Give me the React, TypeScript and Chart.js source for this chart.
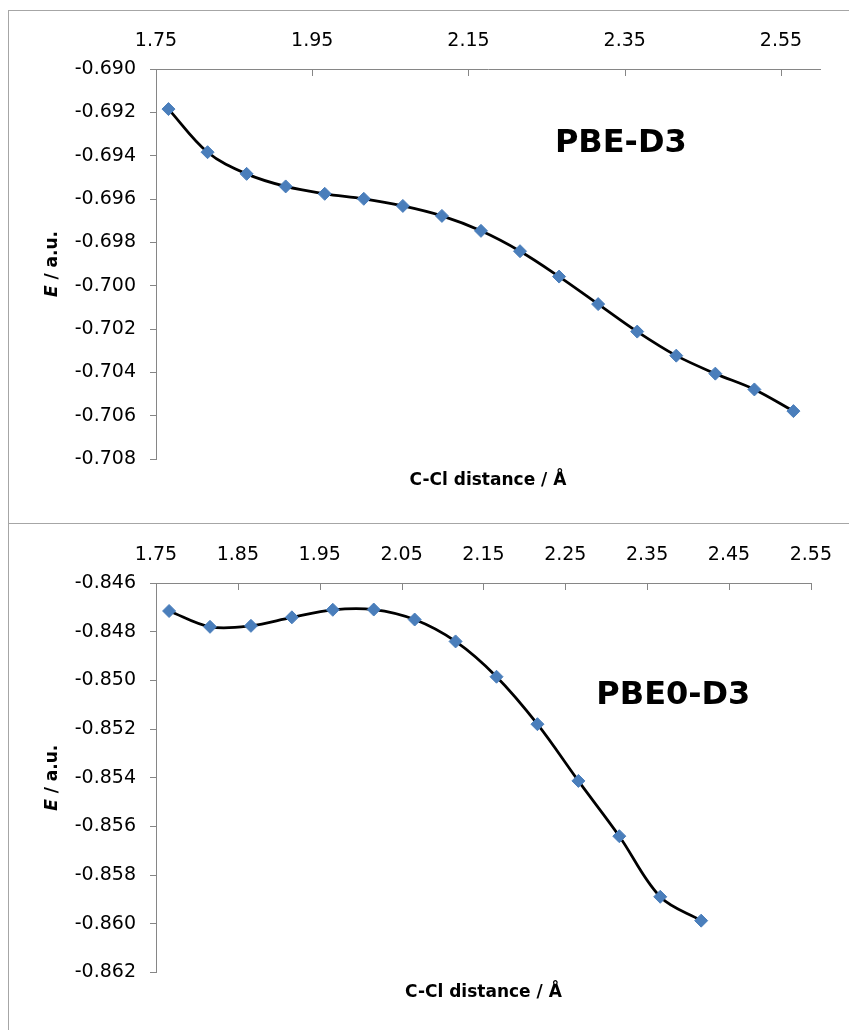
import React, { useEffect, useRef } from 'react';
import { Chart, registerables } from 'chart.js';

Chart.register(...registerables);

// ---------- data ----------
const PBE_DIST = [1.766, 1.816, 1.866, 1.916, 1.966, 2.016, 2.066, 2.116, 2.166, 2.216, 2.266, 2.316, 2.366, 2.416, 2.466, 2.516, 2.566];
const PBE_ENERGY = [-0.69185, -0.69384, -0.69484, -0.69542, -0.69576, -0.69599, -0.69632, -0.69678, -0.69747, -0.69841, -0.69958, -0.70085, -0.70212, -0.70323, -0.70406, -0.70479, -0.70579];

const PBE0_DIST = [1.766, 1.816, 1.866, 1.916, 1.966, 2.016, 2.066, 2.116, 2.166, 2.216, 2.266, 2.316, 2.366, 2.416];
const PBE0_ENERGY = [-0.84715, -0.8478, -0.84776, -0.84741, -0.8471, -0.84709, -0.8475, -0.8484, -0.84985, -0.8518, -0.85413, -0.8564, -0.85889, -0.85987];

const PBE_X_TICKS = [1.75, 1.95, 2.15, 2.35, 2.55];
const PBE_Y_TICKS = [-0.690, -0.692, -0.694, -0.696, -0.698, -0.700, -0.702, -0.704, -0.706, -0.708];
const PBE0_X_TICKS = [1.75, 1.85, 1.95, 2.05, 2.15, 2.25, 2.35, 2.45, 2.55];
const PBE0_Y_TICKS = [-0.846, -0.848, -0.850, -0.852, -0.854, -0.856, -0.858, -0.860, -0.862];

const PBE_LABEL = 'PBE-D3';
const PBE0_LABEL = 'PBE0-D3';
const X_TITLE = 'C-Cl distance / Å';
const Y_TITLE_VAR = 'E';
const Y_TITLE_REST = ' / a.u.';

// ---------- styles ----------
const FONT = "'DejaVu Sans', sans-serif";
const AXIS_COLOR = '#868686';
const FRAME_COLOR = '#a6a6a6';
const MARKER_COLOR = '#4a7ebb';

type PanelCfg = {
  xs: number[];
  ys: number[];
  xTicks: number[];
  yTicks: number[];
  xMin: number;
  xMax: number;
  yMin: number;
  yMax: number;
  label: string;
  labelFx: number;
  labelFy: number;
  padRight: number;
  padBottom: number;
  yAxisWidth: number;
  xAxisHeight: number;
  xTitleOffset: number;
  yTitleX: number;
};

function buildChart(canvas: HTMLCanvasElement, cfg: PanelCfg) {
  const decor = {
    id: 'decor',
    afterDraw(chart: any) {
      const { ctx, chartArea, scales } = chart;
      const xs = scales.x;
      ctx.save();
      ctx.strokeStyle = AXIS_COLOR;
      ctx.lineWidth = 1;
      for (const v of cfg.xTicks) {
        const px = Math.round(xs.getPixelForValue(v)) + 0.5;
        ctx.beginPath();
        ctx.moveTo(px, chartArea.top);
        ctx.lineTo(px, chartArea.top + 7);
        ctx.stroke();
      }
      ctx.fillStyle = '#000';
      ctx.textBaseline = 'middle';
      // x title
      ctx.font = `bold 17px ${FONT}`;
      ctx.textAlign = 'center';
      ctx.fillText(X_TITLE, (chartArea.left + chartArea.right) / 2, chartArea.bottom + cfg.xTitleOffset);
      // y title (rotated)
      ctx.save();
      ctx.translate(cfg.yTitleX, (chartArea.top + chartArea.bottom) / 2);
      ctx.rotate(-Math.PI / 2);
      const italic = `italic bold 17px ${FONT}`;
      const bold = `bold 17px ${FONT}`;
      ctx.font = italic;
      const w1 = ctx.measureText(Y_TITLE_VAR).width;
      ctx.font = bold;
      const w2 = ctx.measureText(Y_TITLE_REST).width;
      const start = -(w1 + w2) / 2;
      ctx.textAlign = 'left';
      ctx.font = italic;
      ctx.fillText(Y_TITLE_VAR, start, 0);
      ctx.font = bold;
      ctx.fillText(Y_TITLE_REST, start + w1, 0);
      ctx.restore();
      // panel label
      ctx.font = `bold 32px ${FONT}`;
      ctx.textAlign = 'center';
      ctx.fillText(
        cfg.label,
        chartArea.left + cfg.labelFx * (chartArea.right - chartArea.left),
        chartArea.top + cfg.labelFy * (chartArea.bottom - chartArea.top)
      );
      ctx.restore();
    },
  };

  const data = cfg.xs.map((x, i) => ({ x, y: cfg.ys[i] }));

  return new Chart(canvas, {
    type: 'line',
    data: {
      datasets: [
        {
          data,
          borderColor: '#000000',
          borderWidth: 2.75,
          tension: 0.35,
          fill: false,
          pointStyle: 'rectRot',
          pointRadius: 6.5,
          pointBackgroundColor: MARKER_COLOR,
          pointBorderColor: MARKER_COLOR,
          pointBorderWidth: 1,
        },
      ],
    },
    options: {
      animation: false,
      responsive: false,
      events: [],
      layout: { padding: { left: 0, top: 0, right: cfg.padRight, bottom: cfg.padBottom } },
      plugins: { legend: { display: false }, tooltip: { enabled: false }, title: { display: false } },
      scales: {
        x: {
          type: 'linear',
          position: 'top',
          min: cfg.xMin,
          max: cfg.xMax,
          afterBuildTicks: (scale: any) => {
            scale.ticks = cfg.xTicks.map((v) => ({ value: v }));
          },
          afterFit: (scale: any) => {
            scale.height = cfg.xAxisHeight;
          },
          grid: { display: true, drawOnChartArea: false, drawTicks: false },
          border: { display: true, color: AXIS_COLOR, width: 1 },
          ticks: {
            autoSkip: false,
            maxRotation: 0,
            padding: 17,
            color: '#000',
            font: { family: FONT, size: 19 },
            callback: (v: any) => Number(v).toFixed(2),
          },
        },
        y: {
          type: 'linear',
          position: 'left',
          min: cfg.yMin,
          max: cfg.yMax,
          afterBuildTicks: (scale: any) => {
            scale.ticks = cfg.yTicks.map((v) => ({ value: v }));
          },
          afterFit: (scale: any) => {
            scale.width = cfg.yAxisWidth;
          },
          grid: { display: true, drawOnChartArea: false, drawTicks: true, tickLength: 6, color: AXIS_COLOR },
          border: { display: true, color: AXIS_COLOR, width: 1 },
          ticks: {
            autoSkip: false,
            padding: 14,
            color: '#000',
            font: { family: FONT, size: 19 },
            callback: (v: any) => Number(v).toFixed(3),
          },
        },
      },
    },
    plugins: [decor],
  } as any);
}

function Panel({ cfg, left, top, width, height }: { cfg: PanelCfg; left: number; top: number; width: number; height: number }) {
  const ref = useRef<HTMLCanvasElement | null>(null);
  useEffect(() => {
    if (!ref.current) return;
    const chart = buildChart(ref.current, cfg);
    return () => chart.destroy();
  }, [cfg]);
  return (
    <canvas
      ref={ref}
      width={width}
      height={height}
      style={{ position: 'absolute', left, top, width, height }}
    />
  );
}

const TOP_CFG: PanelCfg = {
  xs: PBE_DIST,
  ys: PBE_ENERGY,
  xTicks: PBE_X_TICKS,
  yTicks: PBE_Y_TICKS,
  xMin: 1.75,
  xMax: 2.6,
  yMin: -0.708,
  yMax: -0.69,
  label: PBE_LABEL,
  labelFx: 0.7,
  labelFy: 0.191,
  padRight: 29,
  padBottom: 64,
  yAxisWidth: 148,
  xAxisHeight: 59,
  xTitleOffset: 22,
  yTitleX: 45,
};

const BOTTOM_CFG: PanelCfg = {
  xs: PBE0_DIST,
  ys: PBE0_ENERGY,
  xTicks: PBE0_X_TICKS,
  yTicks: PBE0_Y_TICKS,
  xMin: 1.75,
  xMax: 2.55,
  yMin: -0.862,
  yMax: -0.846,
  label: PBE0_LABEL,
  labelFx: 0.79,
  labelFy: 0.289,
  padRight: 35.5,
  padBottom: 57.5,
  yAxisWidth: 148,
  xAxisHeight: 60,
  xTitleOffset: 20.5,
  yTitleX: 45,
};

export default function App() {
  return (
    <div
      style={{
        position: 'fixed',
        left: 0,
        top: 0,
        width: 849,
        height: 1030,
        overflow: 'hidden',
        background: '#ffffff',
      }}
    >
      <div
        style={{
          position: 'absolute',
          left: 8,
          top: 10,
          width: 1000,
          height: 514,
          border: `1px solid ${FRAME_COLOR}`,
          boxSizing: 'border-box',
        }}
      />
      <div
        style={{
          position: 'absolute',
          left: 8,
          top: 523,
          width: 1000,
          height: 1000,
          border: `1px solid ${FRAME_COLOR}`,
          boxSizing: 'border-box',
        }}
      />
      <Panel cfg={TOP_CFG} left={8} top={10} width={841} height={513} />
      <Panel cfg={BOTTOM_CFG} left={8} top={523} width={841} height={507} />
    </div>
  );
}
